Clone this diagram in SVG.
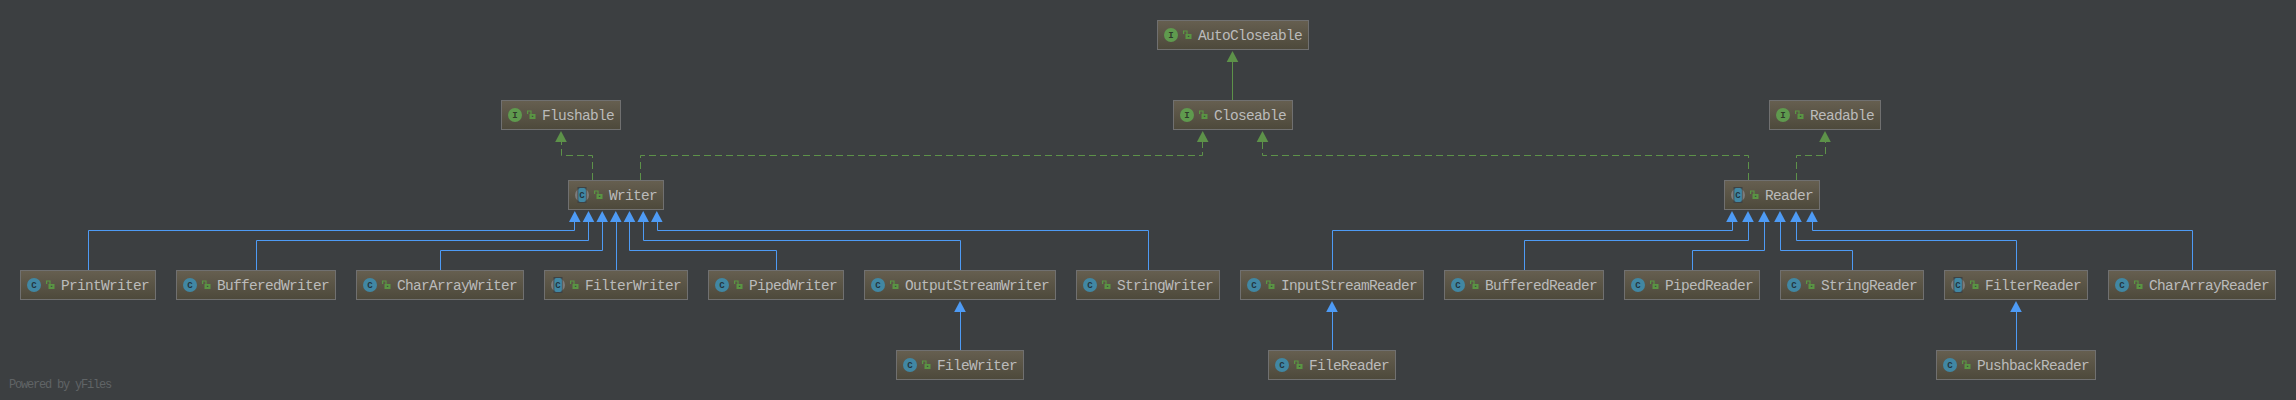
<svg xmlns="http://www.w3.org/2000/svg" width="2296" height="400" viewBox="0 0 2296 400">
<style>
.n{fill:url(#g);stroke:#707070;stroke-width:1}
.t{font:14.5px "Liberation Mono",monospace;letter-spacing:-0.7px;fill:#bbbbbb}
.l{font:bold 9px "Liberation Mono",monospace;text-anchor:middle}
.ci{fill:#4187a3}.cl{fill:#23353f}
.ii{fill:#5f9a4e}.il{fill:#2f3a2b}
.ga{fill:#7c7c7c}
.gap{fill:#3f4243}
.lk{fill:#5a9543}
.sh{fill:none;stroke:#5a9543;stroke-width:1.2}
.b{fill:none;stroke:#4e9bf5;stroke-width:1}
.gs{fill:none;stroke:#5d9249;stroke-width:1}
.gd{fill:none;stroke:#5d9249;stroke-width:1;stroke-dasharray:7 4}
.ah{fill:#4e9bf5}.ag{fill:#5d9249}
.wm{font:12px "Liberation Mono",monospace;letter-spacing:-1.2px;fill:#606466}
</style>
<defs>
<linearGradient id="g" x1="0" y1="0" x2="0" y2="1"><stop offset="0" stop-color="#665f50"/><stop offset="1" stop-color="#4d493b"/></linearGradient>
<g id="lock"><path class="sh" d="M-3.4 -1V-4H0V-1"/><rect class="lk" x="-1.5" y="-1" width="6" height="5"/><rect x="0.8" y="0.8" width="1.5" height="1" fill="#3c3f41"/></g>
<g id="cb"><polygon class="ah" points="0,0 5.8,11 -5.8,11"/></g>
<g id="gh"><polygon class="ag" points="0,0 5.8,11 -5.8,11"/></g>
</defs>
<rect width="2296" height="400" fill="#3c3f41"/>
<g id="connectors">
<path class="gs" d="M1232.5 62V100"/>
<path class="gd" d="M592.5 180V155.5H561.5V142"/>
<path class="gd" d="M640.5 180V155.5H1202.5V142"/>
<path class="gd" d="M1748.5 180V155.5H1262.5V142"/>
<path class="gd" d="M1796.5 180V155.5H1825.5V142"/>
<path class="b" d="M88.5 270V230.5H574.5V222"/>
<path class="b" d="M256.5 270V240.5H588.5V222"/>
<path class="b" d="M440.5 270V250.5H602.5V222"/>
<path class="b" d="M616.5 270V222"/>
<path class="b" d="M776.5 270V250.5H629.5V222"/>
<path class="b" d="M960.5 270V240.5H643.5V222"/>
<path class="b" d="M1148.5 270V230.5H657.5V222"/>
<path class="b" d="M960.5 350V312"/>
<path class="b" d="M1332.5 270V230.5H1732.5V222"/>
<path class="b" d="M1524.5 270V240.5H1748.5V222"/>
<path class="b" d="M1692.5 270V250.5H1764.5V222"/>
<path class="b" d="M1852.5 270V250.5H1780.5V222"/>
<path class="b" d="M2016.5 270V240.5H1796.5V222"/>
<path class="b" d="M2192.5 270V230.5H1812.5V222"/>
<path class="b" d="M1332.5 350V312"/>
<path class="b" d="M2016.5 350V312"/>
<use href="#gh" x="1232.5" y="51"/><use href="#gh" x="561" y="131"/><use href="#gh" x="1202.7" y="131"/><use href="#gh" x="1262.5" y="131"/><use href="#gh" x="1825" y="131"/>
<use href="#cb" x="574.8" y="211"/><use href="#cb" x="588.5" y="211"/><use href="#cb" x="602.2" y="211"/><use href="#cb" x="615.8" y="211"/><use href="#cb" x="629.5" y="211"/><use href="#cb" x="643.2" y="211"/><use href="#cb" x="656.8" y="211"/>
<use href="#cb" x="1732" y="211"/><use href="#cb" x="1748" y="211"/><use href="#cb" x="1764" y="211"/><use href="#cb" x="1780" y="211"/><use href="#cb" x="1796" y="211"/><use href="#cb" x="1812" y="211"/>
<use href="#cb" x="960" y="301"/><use href="#cb" x="1332" y="301"/><use href="#cb" x="2016" y="301"/>
</g>
<g id="AutoCloseable"><rect class="n" x="1157.5" y="20.5" width="151" height="29"/><circle class="ii" cx="1171" cy="35" r="7"/><text class="l il" x="1171" y="38">I</text><use href="#lock" x="1187" y="35"/><text class="t" x="1198" y="40">AutoCloseable</text></g>
<g id="Closeable"><rect class="n" x="1173.5" y="100.5" width="119" height="29"/><circle class="ii" cx="1187" cy="115" r="7"/><text class="l il" x="1187" y="118">I</text><use href="#lock" x="1203" y="115"/><text class="t" x="1214" y="120">Closeable</text></g>
<g id="Flushable"><rect class="n" x="501.5" y="100.5" width="119" height="29"/><circle class="ii" cx="515" cy="115" r="7"/><text class="l il" x="515" y="118">I</text><use href="#lock" x="531" y="115"/><text class="t" x="542" y="120">Flushable</text></g>
<g id="Readable"><rect class="n" x="1769.5" y="100.5" width="111" height="29"/><circle class="ii" cx="1783" cy="115" r="7"/><text class="l il" x="1783" y="118">I</text><use href="#lock" x="1799" y="115"/><text class="t" x="1810" y="120">Readable</text></g>
<g id="Writer"><rect class="n" x="568.5" y="180.5" width="95" height="29"/><circle class="ga" cx="582" cy="195" r="7"/><rect class="gap" x="577.5" y="187" width="9" height="16"/><rect class="ci" x="578.3" y="188" width="7.6" height="14" rx="2"/><text class="l cl" x="582" y="198">C</text><use href="#lock" x="598" y="195"/><text class="t" x="609" y="200">Writer</text></g>
<g id="Reader"><rect class="n" x="1724.5" y="180.5" width="95" height="29"/><circle class="ga" cx="1738" cy="195" r="7"/><rect class="gap" x="1733.5" y="187" width="9" height="16"/><rect class="ci" x="1734.3" y="188" width="7.6" height="14" rx="2"/><text class="l cl" x="1738" y="198">C</text><use href="#lock" x="1754" y="195"/><text class="t" x="1765" y="200">Reader</text></g>
<g id="PrintWriter"><rect class="n" x="20.5" y="270.5" width="135" height="29"/><circle class="ci" cx="34" cy="285" r="7"/><text class="l cl" x="34" y="288">C</text><use href="#lock" x="50" y="285"/><text class="t" x="61" y="290">PrintWriter</text></g>
<g id="BufferedWriter"><rect class="n" x="176.5" y="270.5" width="159" height="29"/><circle class="ci" cx="190" cy="285" r="7"/><text class="l cl" x="190" y="288">C</text><use href="#lock" x="206" y="285"/><text class="t" x="217" y="290">BufferedWriter</text></g>
<g id="CharArrayWriter"><rect class="n" x="356.5" y="270.5" width="167" height="29"/><circle class="ci" cx="370" cy="285" r="7"/><text class="l cl" x="370" y="288">C</text><use href="#lock" x="386" y="285"/><text class="t" x="397" y="290">CharArrayWriter</text></g>
<g id="FilterWriter"><rect class="n" x="544.5" y="270.5" width="143" height="29"/><circle class="ga" cx="558" cy="285" r="7"/><rect class="gap" x="553.5" y="277" width="9" height="16"/><rect class="ci" x="554.3" y="278" width="7.6" height="14" rx="2"/><text class="l cl" x="558" y="288">C</text><use href="#lock" x="574" y="285"/><text class="t" x="585" y="290">FilterWriter</text></g>
<g id="PipedWriter"><rect class="n" x="708.5" y="270.5" width="135" height="29"/><circle class="ci" cx="722" cy="285" r="7"/><text class="l cl" x="722" y="288">C</text><use href="#lock" x="738" y="285"/><text class="t" x="749" y="290">PipedWriter</text></g>
<g id="OutputStreamWriter"><rect class="n" x="864.5" y="270.5" width="191" height="29"/><circle class="ci" cx="878" cy="285" r="7"/><text class="l cl" x="878" y="288">C</text><use href="#lock" x="894" y="285"/><text class="t" x="905" y="290">OutputStreamWriter</text></g>
<g id="StringWriter"><rect class="n" x="1076.5" y="270.5" width="143" height="29"/><circle class="ci" cx="1090" cy="285" r="7"/><text class="l cl" x="1090" y="288">C</text><use href="#lock" x="1106" y="285"/><text class="t" x="1117" y="290">StringWriter</text></g>
<g id="InputStreamReader"><rect class="n" x="1240.5" y="270.5" width="183" height="29"/><circle class="ci" cx="1254" cy="285" r="7"/><text class="l cl" x="1254" y="288">C</text><use href="#lock" x="1270" y="285"/><text class="t" x="1281" y="290">InputStreamReader</text></g>
<g id="BufferedReader"><rect class="n" x="1444.5" y="270.5" width="159" height="29"/><circle class="ci" cx="1458" cy="285" r="7"/><text class="l cl" x="1458" y="288">C</text><use href="#lock" x="1474" y="285"/><text class="t" x="1485" y="290">BufferedReader</text></g>
<g id="PipedReader"><rect class="n" x="1624.5" y="270.5" width="135" height="29"/><circle class="ci" cx="1638" cy="285" r="7"/><text class="l cl" x="1638" y="288">C</text><use href="#lock" x="1654" y="285"/><text class="t" x="1665" y="290">PipedReader</text></g>
<g id="StringReader"><rect class="n" x="1780.5" y="270.5" width="143" height="29"/><circle class="ci" cx="1794" cy="285" r="7"/><text class="l cl" x="1794" y="288">C</text><use href="#lock" x="1810" y="285"/><text class="t" x="1821" y="290">StringReader</text></g>
<g id="FilterReader"><rect class="n" x="1944.5" y="270.5" width="143" height="29"/><circle class="ga" cx="1958" cy="285" r="7"/><rect class="gap" x="1953.5" y="277" width="9" height="16"/><rect class="ci" x="1954.3" y="278" width="7.6" height="14" rx="2"/><text class="l cl" x="1958" y="288">C</text><use href="#lock" x="1974" y="285"/><text class="t" x="1985" y="290">FilterReader</text></g>
<g id="CharArrayReader"><rect class="n" x="2108.5" y="270.5" width="167" height="29"/><circle class="ci" cx="2122" cy="285" r="7"/><text class="l cl" x="2122" y="288">C</text><use href="#lock" x="2138" y="285"/><text class="t" x="2149" y="290">CharArrayReader</text></g>
<g id="FileWriter"><rect class="n" x="896.5" y="350.5" width="127" height="29"/><circle class="ci" cx="910" cy="365" r="7"/><text class="l cl" x="910" y="368">C</text><use href="#lock" x="926" y="365"/><text class="t" x="937" y="370">FileWriter</text></g>
<g id="FileReader"><rect class="n" x="1268.5" y="350.5" width="127" height="29"/><circle class="ci" cx="1282" cy="365" r="7"/><text class="l cl" x="1282" y="368">C</text><use href="#lock" x="1298" y="365"/><text class="t" x="1309" y="370">FileReader</text></g>
<g id="PushbackReader"><rect class="n" x="1936.5" y="350.5" width="159" height="29"/><circle class="ci" cx="1950" cy="365" r="7"/><text class="l cl" x="1950" y="368">C</text><use href="#lock" x="1966" y="365"/><text class="t" x="1977" y="370">PushbackReader</text></g>
<text class="wm" x="9" y="388">Powered by yFiles</text>
</svg>
